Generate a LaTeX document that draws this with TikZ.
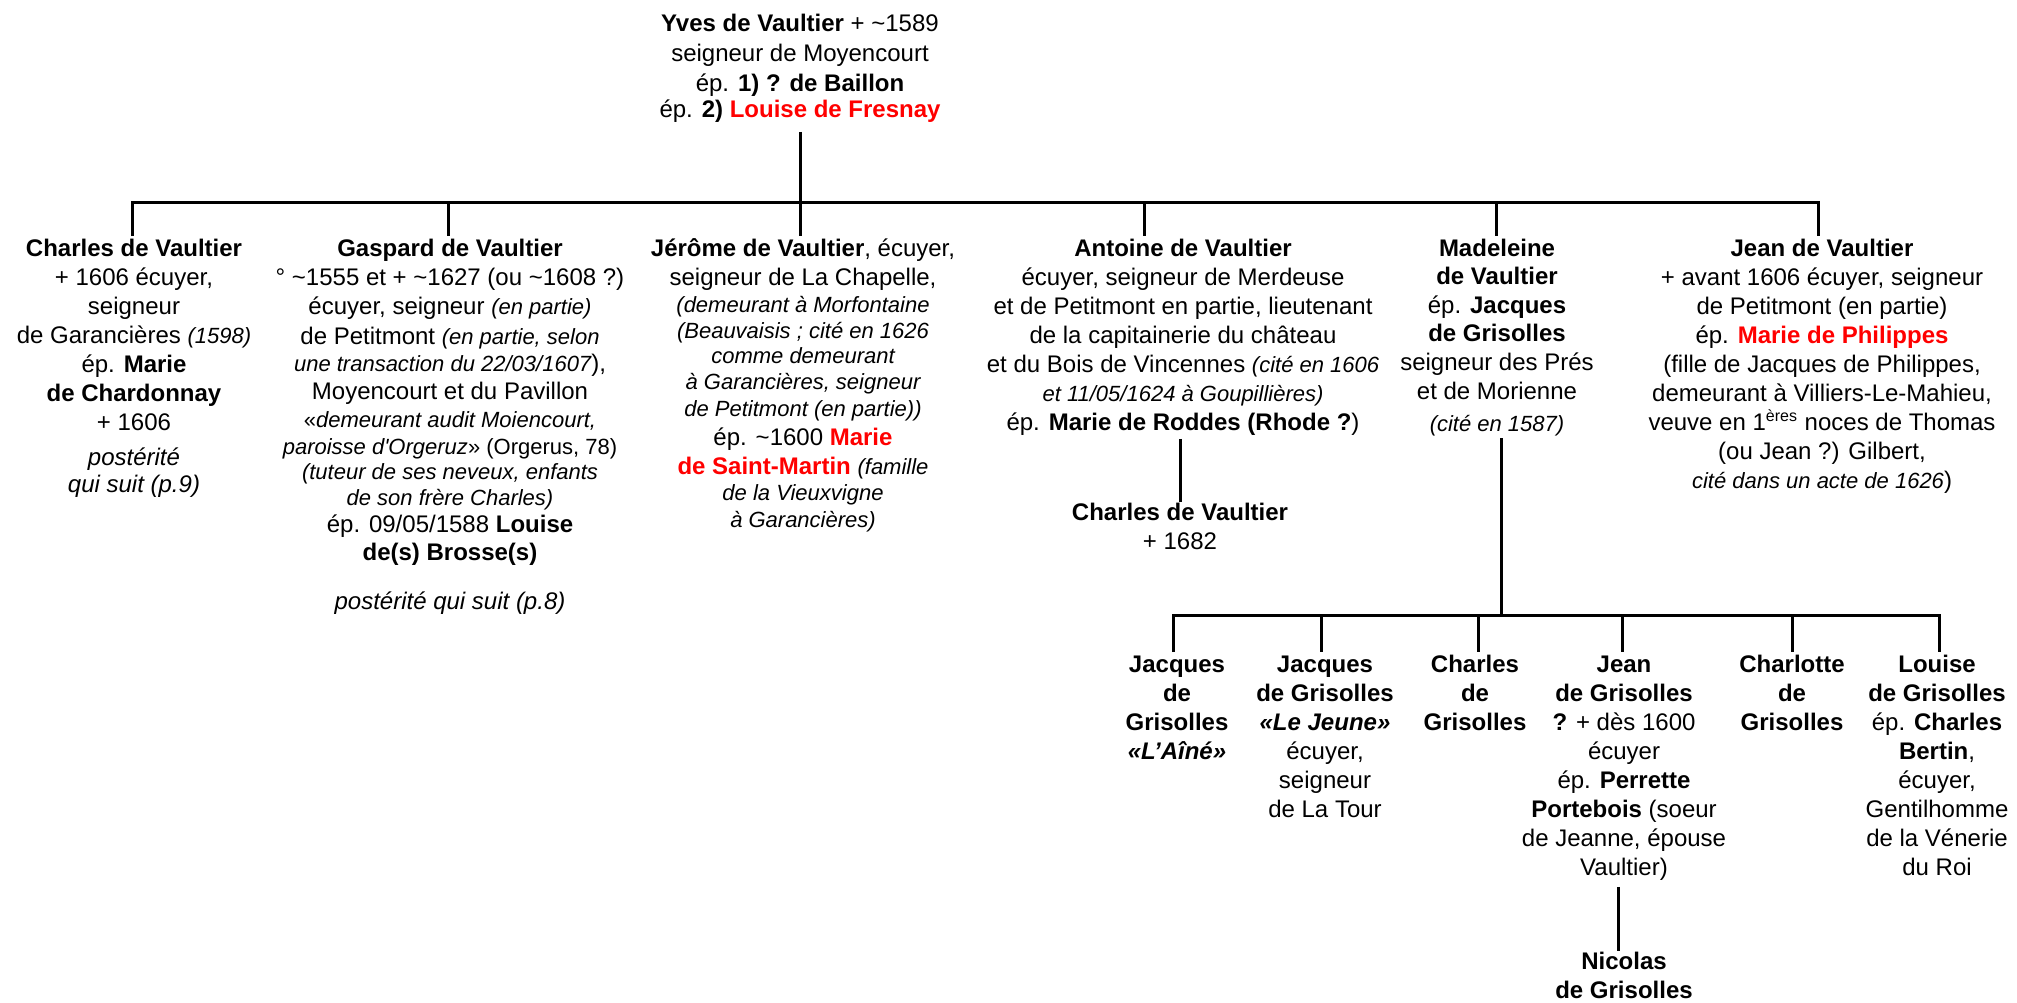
\documentclass[tikz,border=0pt]{standalone}
\usepackage{fontspec}
\setmainfont{Liberation Sans}
\usepackage{xcolor}
\newcommand\toprow{\rule{0pt}{10pt}}
\newcommand\smit[1]{{\fontsize{11}{14.5}\selectfont\itshape #1}}
\newcommand\rd[1]{\textcolor{red}{#1}}
\tikzset{
  person/.style={anchor=north, inner sep=0pt, align=center, font=\fontsize{12}{14.5}\selectfont},
  link/.style={line width=1.5pt, black}
}
\begin{document}
\begin{tikzpicture}[x=0.5pt,y=-0.5pt]
\fill[white] (0,0) rectangle (2017,1002);
\useasboundingbox (0,0) rectangle (2017,1002);

% generation 1
\node[person] (yves) at (800,11) {\toprow\textbf{Yves de Vaultier} + \textasciitilde1589\\[0.5pt]
seigneur de Moyencourt\\[0.5pt]
ép. \textbf{1) ? de Baillon}\\[-1.5pt]
ép. \textbf{2) \rd{Louise de Fresnay}}};

% generation 2
\node[person] (charles) at (134,236) {\toprow\textbf{Charles de Vaultier}\\
+ 1606 écuyer,\\
seigneur\\
de Garancières \smit{(1598)}\\
ép. \textbf{Marie}\\
\textbf{de Chardonnay}\\
+ 1606\\[3pt]
\textit{postérité}\\[-1pt]
\textit{qui suit (p.9)}};

\node[person] (gaspard) at (450,236) {\toprow\textbf{Gaspard de Vaultier}\\
° \textasciitilde1555 et + \textasciitilde1627 (ou \textasciitilde1608 ?)\\
écuyer, seigneur \smit{(en partie)}\\[0.5pt]
de Petitmont \smit{(en partie, selon}\\[-1pt]
\smit{une transaction du 22/03/1607}),\\[-0.5pt]
Moyencourt et du Pavillon\\[-0.5pt]
{\fontsize{11}{14.5}\selectfont«\textit{demeurant audit Moiencourt,}}\\[-1pt]
{\fontsize{11}{14.5}\selectfont\textit{paroisse d\textquotesingle Orgeruz}» (Orgerus, 78)}\\[-2pt]
\smit{(tuteur de ses neveux, enfants}\\[-1.5pt]
\smit{de son frère Charles)}\\[-1pt]
ép. 09/05/1588 \textbf{Louise}\\[-0.5pt]
\textbf{de(s) Brosse(s)}\\[10pt]
\textit{postérité qui suit (p.8)}};

\node[person] (jerome) at (803,236) {\toprow\textbf{Jérôme de Vaultier}, écuyer,\\
seigneur de La Chapelle,\\[-1pt]
\smit{(demeurant à Morfontaine}\\[-1.5pt]
\smit{(Beauvaisis ; cité en 1626}\\[-2pt]
\smit{comme demeurant}\\[-1.5pt]
\smit{à Garancières, seigneur}\\[-1pt]
\smit{de Petitmont (en partie))}\\
ép. \textasciitilde1600 \textbf{\rd{Marie}}\\
\textbf{\rd{de Saint-Martin}} \smit{(famille}\\[-1.5pt]
\smit{de la Vieuxvigne}\\[-1pt]
\smit{à Garancières)}};

\node[person] (antoine) at (1183,236) {\toprow\textbf{Antoine de Vaultier}\\
écuyer, seigneur de Merdeuse\\
et de Petitmont en partie, lieutenant\\
de la capitainerie du château\\
et du Bois de Vincennes \smit{(cité en 1606}\\
\smit{et 11/05/1624 à Goupillières)}\\
ép. \textbf{Marie de Roddes (Rhode ?})};

\node[person] (madeleine) at (1497,236) {\toprow\textbf{Madeleine}\\[-0.5pt]
\textbf{de Vaultier}\\
ép. \textbf{Jacques}\\[-0.5pt]
\textbf{de Grisolles}\\
seigneur des Prés\\
et de Morienne\\[1.5pt]
\smit{(cité en 1587)}};

\node[person] (jean) at (1822,236) {\toprow\textbf{Jean de Vaultier}\\
+ avant 1606 écuyer, seigneur\\
de Petitmont (en partie)\\
ép. \textbf{\rd{Marie de Philippes}}\\
(fille de Jacques de Philippes,\\
demeurant à Villiers-Le-Mahieu,\\
veuve en 1\textsuperscript{ères} noces de Thomas\\
(ou Jean ?) Gilbert,\\
\smit{cité dans un acte de 1626})};

% generation 3
\node[person] (charlesII) at (1180,500) {\toprow\textbf{Charles de Vaultier}\\
+ 1682};

\node[person] (jacquesA) at (1177,652) {\toprow\textbf{Jacques}\\
\textbf{de}\\
\textbf{Grisolles}\\
\textbf{\textit{«L’Aîné»}}};

\node[person] (jacquesJ) at (1325,652) {\toprow\textbf{Jacques}\\
\textbf{de Grisolles}\\
\textbf{\textit{«Le Jeune»}}\\
écuyer,\\
seigneur\\
de La Tour};

\node[person] (charlesG) at (1475,652) {\toprow\textbf{Charles}\\
\textbf{de}\\
\textbf{Grisolles}};

\node[person] (jeanG) at (1624,652) {\toprow\textbf{Jean}\\
\textbf{de Grisolles}\\
\textbf{?} + dès 1600\\
écuyer\\
ép. \textbf{Perrette}\\
\textbf{Portebois} (soeur\\
de Jeanne, épouse\\
Vaultier)};

\node[person] (charlotte) at (1792,652) {\toprow\textbf{Charlotte}\\
\textbf{de}\\
\textbf{Grisolles}};

\node[person] (louise) at (1937,652) {\toprow\textbf{Louise}\\
\textbf{de Grisolles}\\
ép. \textbf{Charles}\\
\textbf{Bertin},\\
écuyer,\\
Gentilhomme\\
de la Vénerie\\
du Roi};

% generation 4
\node[person] (nicolas) at (1624,949) {\toprow\textbf{Nicolas}\\
\textbf{de Grisolles}};

% bus coordinates
\coordinate (tC) at (132,202);
\coordinate (tG) at (448,202);
\coordinate (tY) at (800,202);
\coordinate (tA) at (1144,202);
\coordinate (tM) at (1496,202);
\coordinate (tJ) at (1818,202);

\coordinate (bA) at (1173,615);
\coordinate (bJ) at (1321,615);
\coordinate (bC) at (1478,615);
\coordinate (bM) at (1501,615);
\coordinate (bG) at (1622,615);
\coordinate (bH) at (1792,615);
\coordinate (bL) at (1939,615);
\coordinate (nx) at (1618,0);

% connectors, generation 1 -> 2
\draw[link] ([yshift=-4.5pt]yves.south) -- (tY);
\draw[link] (tC |- charles.north) -- (tC) -- (tJ) -- (tJ |- jean.north);
\draw[link] (tG) -- (tG |- gaspard.north);
\draw[link] (tY) -- (tY |- jerome.north);
\draw[link] (tA) -- (tA |- antoine.north);
\draw[link] (tM) -- (tM |- madeleine.north);

% Antoine -> Charles
\draw[link] ([yshift=-1.5pt]antoine.south -| charlesII.north) -- ([yshift=-1pt]charlesII.north);

% Madeleine -> children
\draw[link] ([yshift=-1pt]madeleine.south -| bM) -- (bM);
\draw[link] (bA |- jacquesA.north) -- (bA) -- (bL) -- (bL |- louise.north);
\draw[link] (bJ) -- (bJ |- jacquesJ.north);
\draw[link] (bC) -- (bC |- charlesG.north);
\draw[link] (bG) -- (bG |- jeanG.north);
\draw[link] (bH) -- (bH |- charlotte.north);

% Jean de Grisolles -> Nicolas
\draw[link] ([yshift=-3pt]jeanG.south -| nx) -- ([yshift=-1pt]nicolas.north -| nx);
\end{tikzpicture}
\end{document}
